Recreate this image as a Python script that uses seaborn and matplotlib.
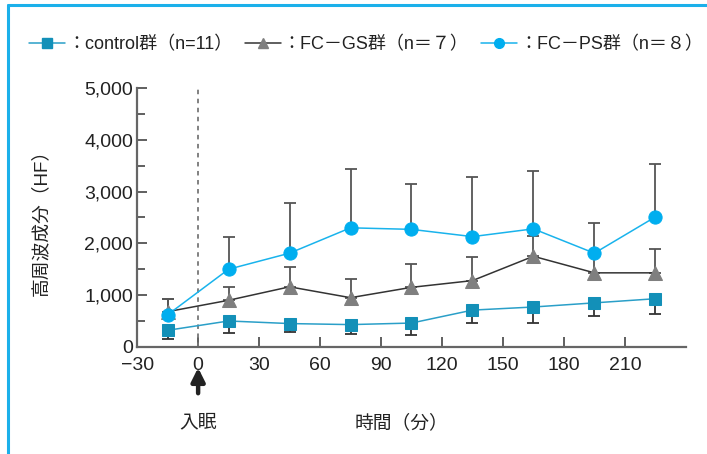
import numpy as np
import pandas as pd
import seaborn as sns
import matplotlib.pyplot as plt
import matplotlib.transforms as mtransforms
from matplotlib.lines import Line2D
from matplotlib.ticker import MultipleLocator, FuncFormatter

# --- data ---
time_min = [-15, 15, 45, 75, 105, 135, 165, 195, 225]

control_mean = [320, 500, 450, 430, 460, 710, 770, 850, 930]
control_low = [160, 270, 290, 245, 225, 470, 470, 590, 630]   # lower whisker ends

gs_mean = [680, 900, 1160, 950, 1150, 1280, 1750, 1430, 1430]
gs_high = [930, 1160, 1540, 1320, 1610, 1730, 2150, 1800, 1890]  # upper whisker ends

ps_mean = [620, 1500, 1810, 2300, 2270, 2130, 2280, 1810, 2510]
ps_high = [930, 2130, 2780, 3440, 3140, 3280, 3400, 2400, 3530]

labels = ["：control群（n=11）", "：FC－GS群（n＝７）", "：FC－PS群（n＝８）"]
x_ticks = [-30, 0, 30, 60, 90, 120, 150, 180, 210]

sns.set_style("ticks")
plt.rcParams['font.family'] = ['Liberation Sans', 'Noto Sans CJK JP', 'DejaVu Sans']

fig = plt.figure(figsize=(7.07, 4.54), dpi=100)
ax = fig.add_axes([0.194, 0.236, 0.776, 0.570])

# frame lines of the figure panel (top and left)
fig.add_artist(Line2D([0.012, 1.0], [0.989, 0.989], color='#1bb0ea', lw=2.2))
fig.add_artist(Line2D([0.012, 0.012], [0.0, 0.989], color='#1bb0ea', lw=2.2))

err_kw = dict(fmt='none', capsize=4, elinewidth=1.3, capthick=1.3)

# error bars (one-sided)
ax.errorbar(time_min, control_mean,
            yerr=[np.array(control_mean) - np.array(control_low), np.zeros(len(time_min))],
            ecolor='#333333', zorder=2, **err_kw)
ax.errorbar(time_min, gs_mean,
            yerr=[np.zeros(len(time_min)), np.array(gs_high) - np.array(gs_mean)],
            ecolor='#555555', zorder=2, **err_kw)
ax.errorbar(time_min, ps_mean,
            yerr=[np.zeros(len(time_min)), np.array(ps_high) - np.array(ps_mean)],
            ecolor='#555555', zorder=2, **err_kw)

df = pd.DataFrame({'time': time_min, 'control': control_mean, 'gs': gs_mean, 'ps': ps_mean})

sns.lineplot(data=df, x='time', y='gs', ax=ax, color='#333333', lw=1.1,
             marker='^', markersize=10, markerfacecolor='#7f7f7f',
             markeredgecolor='#7f7f7f', zorder=3)
sns.lineplot(data=df, x='time', y='ps', ax=ax, color='#19b3ec', lw=1.1,
             marker='o', markersize=9.5, markerfacecolor='#00aeef',
             markeredgecolor='#00aeef', zorder=4)
sns.lineplot(data=df, x='time', y='control', ax=ax, color='#2a9fc8', lw=1.1,
             marker='s', markersize=8.5, markerfacecolor='#1390b8',
             markeredgecolor='#1390b8', zorder=4)

# sleep onset line
ax.axvline(0, ymin=0, ymax=1, color='#777777', lw=1.3, ls=(0, (2.5, 2.5)), zorder=1)

ax.set_xlim(-30, 240)
ax.set_ylim(0, 5000)
ax.set_xticks(x_ticks)
ax.yaxis.set_major_locator(MultipleLocator(1000))
ax.yaxis.set_minor_locator(MultipleLocator(500))
ax.yaxis.set_major_formatter(FuncFormatter(lambda v, p: f"{int(v):,}"))
ax.xaxis.set_major_formatter(FuncFormatter(lambda v, p: f"\u2212{abs(int(v))}" if v < 0 else f"{int(v)}"))

sns.despine(ax=ax)
for s in ['left', 'bottom']:
    ax.spines[s].set_color('#666666')
    ax.spines[s].set_linewidth(1.6)
ax.tick_params(axis='both', which='major', direction='in', length=7, width=1.2,
               color='#444444', labelsize=14, labelcolor='#222222')
ax.tick_params(axis='x', which='major', pad=7)
ax.tick_params(axis='y', which='major', pad=3)
ax.tick_params(axis='y', which='minor', direction='in', length=6, width=1.2, color='#444444')
ax.set_xlabel('')
ax.set_ylabel('高周波成分（HF）', fontsize=13.5, color='#222222')
ax.yaxis.set_label_coords(-0.158, 0.5)

# lift the "0" label on y a touch so it clears the "-30" label
fig.canvas.draw()
zero_lbl = ax.get_yticklabels()[0]
zero_lbl.set_transform(zero_lbl.get_transform() +
                       mtransforms.ScaledTranslation(0, 3 / 72, fig.dpi_scale_trans))

# sleep onset arrow and labels under the axis
ax.annotate('', xy=(0, -0.07), xycoords=('data', 'axes fraction'),
            xytext=(0, -0.19), textcoords=('data', 'axes fraction'),
            arrowprops=dict(arrowstyle='-|>', lw=3.2, color='#222222', mutation_scale=20),
            annotation_clip=False)
ax.text(0, -0.295, '入眠', transform=ax.get_xaxis_transform(), ha='center', va='center',
        fontsize=13.5, color='#222222')
ax.text(100, -0.295, '時間（分）', transform=ax.get_xaxis_transform(), ha='center', va='center',
        fontsize=13.5, color='#222222')

# legend across the top
handles = [
    Line2D([], [], color='#2a9fc8', lw=1.1, marker='s', markersize=7,
           markerfacecolor='#1390b8', markeredgecolor='#1390b8'),
    Line2D([], [], color='#333333', lw=1.1, marker='^', markersize=7.5,
           markerfacecolor='#7f7f7f', markeredgecolor='#7f7f7f'),
    Line2D([], [], color='#19b3ec', lw=1.1, marker='o', markersize=7,
           markerfacecolor='#00aeef', markeredgecolor='#00aeef'),
]
fig.legend(handles, labels, loc='center left', bbox_to_anchor=(0.018, 0.902), ncol=3,
           frameon=False, fontsize=13, handlelength=2.0, handletextpad=0.1,
           columnspacing=0.7, labelcolor='#222222')

fig.savefig('out.png', dpi=100)
